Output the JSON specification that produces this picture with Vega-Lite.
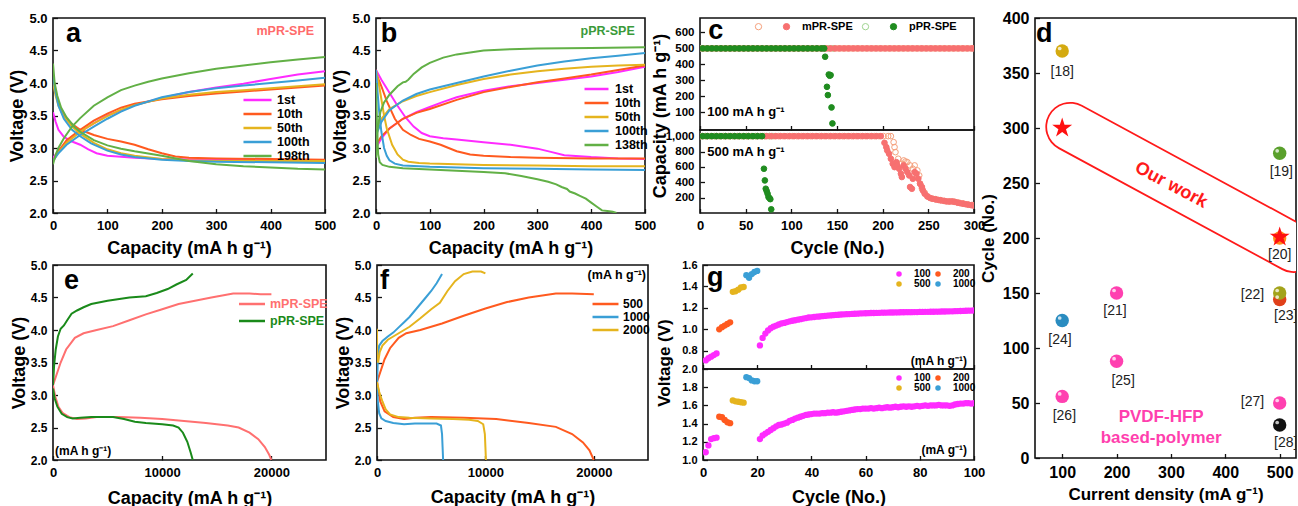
{
 "$schema": "https://vega.github.io/schema/vega-lite/v6.json",
 "background": "white",
 "padding": {"left": 8, "top": 9, "right": 0, "bottom": 0},
 "config": {
  "font": "Liberation Sans",
  "view": {"stroke": "#111", "strokeWidth": 1.6},
  "axis": {"domain": false, "grid": false, "tickColor": "#111", "tickWidth": 1.3, "tickSize": -4.5, "tickCount": 40, "labelPadding": 10.5, "labelFont": "Liberation Sans", "labelFontWeight": "bold", "labelFontSize": 13, "labelColor": "#000", "labelFlush": false, "labelOverlap": false, "titleFont": "Liberation Sans", "titleFontWeight": "bold", "titleFontSize": 18, "titleColor": "#000"},
  "axisX": {"titlePadding": 7},
  "axisY": {"titlePadding": 2},
  "legend": {"padding": 0, "labelFont": "Liberation Sans", "labelFontWeight": "bold", "labelColor": "#000", "title": null},
  "text": {"font": "Liberation Sans"}
 },
 "datasets": {
  "a": [
   {"s":"1st","b":"c","x":0,"y":2.85},{"s":"1st","b":"c","x":10,"y":2.95},{"s":"1st","b":"c","x":25,"y":3.1},{"s":"1st","b":"c","x":50,"y":3.25},{"s":"1st","b":"c","x":75,"y":3.38},{"s":"1st","b":"c","x":100,"y":3.5},{"s":"1st","b":"c","x":150,"y":3.66},{"s":"1st","b":"c","x":200,"y":3.77},{"s":"1st","b":"c","x":250,"y":3.86},{"s":"1st","b":"c","x":300,"y":3.93},{"s":"1st","b":"c","x":350,"y":3.99},{"s":"1st","b":"c","x":400,"y":4.06},{"s":"1st","b":"c","x":450,"y":4.13},{"s":"1st","b":"c","x":500,"y":4.18},
   {"s":"1st","b":"d","x":0,"y":3.55},{"s":"1st","b":"d","x":5,"y":3.4},{"s":"1st","b":"d","x":10,"y":3.28},{"s":"1st","b":"d","x":20,"y":3.17},{"s":"1st","b":"d","x":35,"y":3.1},{"s":"1st","b":"d","x":50,"y":3.05},{"s":"1st","b":"d","x":65,"y":2.98},{"s":"1st","b":"d","x":80,"y":2.92},{"s":"1st","b":"d","x":100,"y":2.88},{"s":"1st","b":"d","x":150,"y":2.85},{"s":"1st","b":"d","x":200,"y":2.83},{"s":"1st","b":"d","x":300,"y":2.82},{"s":"1st","b":"d","x":400,"y":2.81},{"s":"1st","b":"d","x":500,"y":2.8},
   {"s":"10th","b":"c","x":0,"y":2.8},{"s":"10th","b":"c","x":10,"y":2.95},{"s":"10th","b":"c","x":25,"y":3.12},{"s":"10th","b":"c","x":50,"y":3.28},{"s":"10th","b":"c","x":75,"y":3.42},{"s":"10th","b":"c","x":100,"y":3.53},{"s":"10th","b":"c","x":125,"y":3.62},{"s":"10th","b":"c","x":150,"y":3.68},{"s":"10th","b":"c","x":200,"y":3.75},{"s":"10th","b":"c","x":250,"y":3.8},{"s":"10th","b":"c","x":300,"y":3.84},{"s":"10th","b":"c","x":350,"y":3.87},{"s":"10th","b":"c","x":400,"y":3.9},{"s":"10th","b":"c","x":450,"y":3.93},{"s":"10th","b":"c","x":500,"y":3.96},
   {"s":"10th","b":"d","x":0,"y":4.1},{"s":"10th","b":"d","x":5,"y":3.85},{"s":"10th","b":"d","x":10,"y":3.68},{"s":"10th","b":"d","x":20,"y":3.5},{"s":"10th","b":"d","x":30,"y":3.4},{"s":"10th","b":"d","x":50,"y":3.28},{"s":"10th","b":"d","x":75,"y":3.2},{"s":"10th","b":"d","x":100,"y":3.14},{"s":"10th","b":"d","x":125,"y":3.1},{"s":"10th","b":"d","x":150,"y":3.05},{"s":"10th","b":"d","x":175,"y":2.98},{"s":"10th","b":"d","x":200,"y":2.92},{"s":"10th","b":"d","x":225,"y":2.87},{"s":"10th","b":"d","x":250,"y":2.85},{"s":"10th","b":"d","x":300,"y":2.84},{"s":"10th","b":"d","x":400,"y":2.83},{"s":"10th","b":"d","x":500,"y":2.82},
   {"s":"50th","b":"c","x":0,"y":2.8},{"s":"50th","b":"c","x":10,"y":2.93},{"s":"50th","b":"c","x":25,"y":3.08},{"s":"50th","b":"c","x":50,"y":3.25},{"s":"50th","b":"c","x":75,"y":3.38},{"s":"50th","b":"c","x":100,"y":3.49},{"s":"50th","b":"c","x":125,"y":3.59},{"s":"50th","b":"c","x":150,"y":3.66},{"s":"50th","b":"c","x":200,"y":3.76},{"s":"50th","b":"c","x":250,"y":3.82},{"s":"50th","b":"c","x":300,"y":3.86},{"s":"50th","b":"c","x":350,"y":3.89},{"s":"50th","b":"c","x":400,"y":3.92},{"s":"50th","b":"c","x":450,"y":3.95},{"s":"50th","b":"c","x":500,"y":3.98},
   {"s":"50th","b":"d","x":0,"y":4.0},{"s":"50th","b":"d","x":5,"y":3.8},{"s":"50th","b":"d","x":10,"y":3.65},{"s":"50th","b":"d","x":20,"y":3.48},{"s":"50th","b":"d","x":35,"y":3.33},{"s":"50th","b":"d","x":50,"y":3.22},{"s":"50th","b":"d","x":75,"y":3.08},{"s":"50th","b":"d","x":100,"y":2.98},{"s":"50th","b":"d","x":125,"y":2.92},{"s":"50th","b":"d","x":150,"y":2.88},{"s":"50th","b":"d","x":200,"y":2.83},{"s":"50th","b":"d","x":250,"y":2.81},{"s":"50th","b":"d","x":300,"y":2.8},{"s":"50th","b":"d","x":400,"y":2.8},{"s":"50th","b":"d","x":500,"y":2.8},
   {"s":"100th","b":"c","x":0,"y":2.8},{"s":"100th","b":"c","x":10,"y":2.92},{"s":"100th","b":"c","x":25,"y":3.05},{"s":"100th","b":"c","x":50,"y":3.2},{"s":"100th","b":"c","x":75,"y":3.33},{"s":"100th","b":"c","x":100,"y":3.45},{"s":"100th","b":"c","x":125,"y":3.56},{"s":"100th","b":"c","x":150,"y":3.65},{"s":"100th","b":"c","x":200,"y":3.78},{"s":"100th","b":"c","x":250,"y":3.86},{"s":"100th","b":"c","x":300,"y":3.92},{"s":"100th","b":"c","x":350,"y":3.96},{"s":"100th","b":"c","x":400,"y":4.0},{"s":"100th","b":"c","x":450,"y":4.04},{"s":"100th","b":"c","x":500,"y":4.08},
   {"s":"100th","b":"d","x":0,"y":4.1},{"s":"100th","b":"d","x":5,"y":3.85},{"s":"100th","b":"d","x":10,"y":3.65},{"s":"100th","b":"d","x":20,"y":3.45},{"s":"100th","b":"d","x":35,"y":3.28},{"s":"100th","b":"d","x":50,"y":3.18},{"s":"100th","b":"d","x":70,"y":3.07},{"s":"100th","b":"d","x":100,"y":2.96},{"s":"100th","b":"d","x":125,"y":2.9},{"s":"100th","b":"d","x":150,"y":2.86},{"s":"100th","b":"d","x":200,"y":2.82},{"s":"100th","b":"d","x":250,"y":2.8},{"s":"100th","b":"d","x":300,"y":2.79},{"s":"100th","b":"d","x":400,"y":2.78},{"s":"100th","b":"d","x":500,"y":2.77},
   {"s":"198th","b":"c","x":0,"y":2.75},{"s":"198th","b":"c","x":5,"y":2.9},{"s":"198th","b":"c","x":10,"y":3.0},{"s":"198th","b":"c","x":20,"y":3.15},{"s":"198th","b":"c","x":35,"y":3.33},{"s":"198th","b":"c","x":50,"y":3.46},{"s":"198th","b":"c","x":75,"y":3.65},{"s":"198th","b":"c","x":100,"y":3.78},{"s":"198th","b":"c","x":125,"y":3.89},{"s":"198th","b":"c","x":150,"y":3.96},{"s":"198th","b":"c","x":175,"y":4.02},{"s":"198th","b":"c","x":200,"y":4.07},{"s":"198th","b":"c","x":250,"y":4.15},{"s":"198th","b":"c","x":300,"y":4.22},{"s":"198th","b":"c","x":350,"y":4.27},{"s":"198th","b":"c","x":400,"y":4.32},{"s":"198th","b":"c","x":450,"y":4.36},{"s":"198th","b":"c","x":500,"y":4.4},
   {"s":"198th","b":"d","x":0,"y":4.3},{"s":"198th","b":"d","x":3,"y":4.0},{"s":"198th","b":"d","x":8,"y":3.8},{"s":"198th","b":"d","x":15,"y":3.62},{"s":"198th","b":"d","x":25,"y":3.47},{"s":"198th","b":"d","x":40,"y":3.32},{"s":"198th","b":"d","x":50,"y":3.25},{"s":"198th","b":"d","x":75,"y":3.12},{"s":"198th","b":"d","x":100,"y":3.04},{"s":"198th","b":"d","x":125,"y":2.99},{"s":"198th","b":"d","x":150,"y":2.95},{"s":"198th","b":"d","x":200,"y":2.88},{"s":"198th","b":"d","x":250,"y":2.8},{"s":"198th","b":"d","x":300,"y":2.75},{"s":"198th","b":"d","x":350,"y":2.72},{"s":"198th","b":"d","x":400,"y":2.7},{"s":"198th","b":"d","x":450,"y":2.68},{"s":"198th","b":"d","x":500,"y":2.67}
  ],
  "b": [
   {"s":"1st","b":"c","x":0,"y":3.0},{"s":"1st","b":"c","x":10,"y":3.15},{"s":"1st","b":"c","x":25,"y":3.3},{"s":"1st","b":"c","x":50,"y":3.45},{"s":"1st","b":"c","x":75,"y":3.55},{"s":"1st","b":"c","x":100,"y":3.63},{"s":"1st","b":"c","x":125,"y":3.71},{"s":"1st","b":"c","x":150,"y":3.78},{"s":"1st","b":"c","x":200,"y":3.88},{"s":"1st","b":"c","x":250,"y":3.95},{"s":"1st","b":"c","x":300,"y":4.0},{"s":"1st","b":"c","x":350,"y":4.05},{"s":"1st","b":"c","x":400,"y":4.1},{"s":"1st","b":"c","x":450,"y":4.17},{"s":"1st","b":"c","x":500,"y":4.25},
   {"s":"1st","b":"d","x":0,"y":4.2},{"s":"1st","b":"d","x":10,"y":4.05},{"s":"1st","b":"d","x":25,"y":3.85},{"s":"1st","b":"d","x":40,"y":3.65},{"s":"1st","b":"d","x":55,"y":3.47},{"s":"1st","b":"d","x":70,"y":3.33},{"s":"1st","b":"d","x":85,"y":3.23},{"s":"1st","b":"d","x":100,"y":3.18},{"s":"1st","b":"d","x":125,"y":3.15},{"s":"1st","b":"d","x":150,"y":3.13},{"s":"1st","b":"d","x":200,"y":3.09},{"s":"1st","b":"d","x":250,"y":3.05},{"s":"1st","b":"d","x":300,"y":2.99},{"s":"1st","b":"d","x":325,"y":2.94},{"s":"1st","b":"d","x":350,"y":2.89},{"s":"1st","b":"d","x":400,"y":2.86},{"s":"1st","b":"d","x":450,"y":2.84},{"s":"1st","b":"d","x":500,"y":2.83},
   {"s":"10th","b":"c","x":0,"y":3.05},{"s":"10th","b":"c","x":10,"y":3.18},{"s":"10th","b":"c","x":25,"y":3.3},{"s":"10th","b":"c","x":50,"y":3.45},{"s":"10th","b":"c","x":75,"y":3.54},{"s":"10th","b":"c","x":100,"y":3.6},{"s":"10th","b":"c","x":150,"y":3.74},{"s":"10th","b":"c","x":200,"y":3.86},{"s":"10th","b":"c","x":250,"y":3.94},{"s":"10th","b":"c","x":300,"y":4.01},{"s":"10th","b":"c","x":350,"y":4.07},{"s":"10th","b":"c","x":400,"y":4.13},{"s":"10th","b":"c","x":450,"y":4.2},{"s":"10th","b":"c","x":500,"y":4.27},
   {"s":"10th","b":"d","x":0,"y":4.15},{"s":"10th","b":"d","x":10,"y":3.95},{"s":"10th","b":"d","x":20,"y":3.72},{"s":"10th","b":"d","x":35,"y":3.45},{"s":"10th","b":"d","x":50,"y":3.28},{"s":"10th","b":"d","x":65,"y":3.2},{"s":"10th","b":"d","x":80,"y":3.14},{"s":"10th","b":"d","x":100,"y":3.1},{"s":"10th","b":"d","x":120,"y":3.05},{"s":"10th","b":"d","x":135,"y":3.0},{"s":"10th","b":"d","x":150,"y":2.95},{"s":"10th","b":"d","x":175,"y":2.9},{"s":"10th","b":"d","x":200,"y":2.88},{"s":"10th","b":"d","x":250,"y":2.86},{"s":"10th","b":"d","x":300,"y":2.85},{"s":"10th","b":"d","x":400,"y":2.84},{"s":"10th","b":"d","x":500,"y":2.84},
   {"s":"50th","b":"c","x":0,"y":3.3},{"s":"50th","b":"c","x":10,"y":3.45},{"s":"50th","b":"c","x":25,"y":3.6},{"s":"50th","b":"c","x":50,"y":3.72},{"s":"50th","b":"c","x":75,"y":3.8},{"s":"50th","b":"c","x":100,"y":3.86},{"s":"50th","b":"c","x":150,"y":3.97},{"s":"50th","b":"c","x":200,"y":4.06},{"s":"50th","b":"c","x":250,"y":4.13},{"s":"50th","b":"c","x":300,"y":4.18},{"s":"50th","b":"c","x":350,"y":4.22},{"s":"50th","b":"c","x":400,"y":4.25},{"s":"50th","b":"c","x":450,"y":4.27},{"s":"50th","b":"c","x":500,"y":4.28},
   {"s":"50th","b":"d","x":0,"y":4.2},{"s":"50th","b":"d","x":5,"y":4.0},{"s":"50th","b":"d","x":10,"y":3.75},{"s":"50th","b":"d","x":15,"y":3.5},{"s":"50th","b":"d","x":20,"y":3.3},{"s":"50th","b":"d","x":30,"y":3.05},{"s":"50th","b":"d","x":40,"y":2.9},{"s":"50th","b":"d","x":50,"y":2.82},{"s":"50th","b":"d","x":60,"y":2.79},{"s":"50th","b":"d","x":80,"y":2.77},{"s":"50th","b":"d","x":100,"y":2.76},{"s":"50th","b":"d","x":200,"y":2.74},{"s":"50th","b":"d","x":300,"y":2.73},{"s":"50th","b":"d","x":400,"y":2.72},{"s":"50th","b":"d","x":500,"y":2.72},
   {"s":"100th","b":"c","x":0,"y":3.2},{"s":"100th","b":"c","x":10,"y":3.4},{"s":"100th","b":"c","x":25,"y":3.58},{"s":"100th","b":"c","x":50,"y":3.73},{"s":"100th","b":"c","x":75,"y":3.83},{"s":"100th","b":"c","x":100,"y":3.9},{"s":"100th","b":"c","x":150,"y":4.0},{"s":"100th","b":"c","x":200,"y":4.1},{"s":"100th","b":"c","x":250,"y":4.19},{"s":"100th","b":"c","x":300,"y":4.27},{"s":"100th","b":"c","x":350,"y":4.33},{"s":"100th","b":"c","x":400,"y":4.38},{"s":"100th","b":"c","x":450,"y":4.42},{"s":"100th","b":"c","x":500,"y":4.46},
   {"s":"100th","b":"d","x":0,"y":4.2},{"s":"100th","b":"d","x":3,"y":3.85},{"s":"100th","b":"d","x":6,"y":3.55},{"s":"100th","b":"d","x":10,"y":3.25},{"s":"100th","b":"d","x":15,"y":3.0},{"s":"100th","b":"d","x":20,"y":2.88},{"s":"100th","b":"d","x":25,"y":2.81},{"s":"100th","b":"d","x":35,"y":2.76},{"s":"100th","b":"d","x":50,"y":2.73},{"s":"100th","b":"d","x":100,"y":2.71},{"s":"100th","b":"d","x":200,"y":2.69},{"s":"100th","b":"d","x":300,"y":2.68},{"s":"100th","b":"d","x":400,"y":2.67},{"s":"100th","b":"d","x":500,"y":2.66},
   {"s":"138th","b":"c","x":0,"y":2.85},{"s":"138th","b":"c","x":3,"y":3.3},{"s":"138th","b":"c","x":8,"y":3.55},{"s":"138th","b":"c","x":15,"y":3.7},{"s":"138th","b":"c","x":25,"y":3.82},{"s":"138th","b":"c","x":40,"y":3.95},{"s":"138th","b":"c","x":50,"y":4.01},{"s":"138th","b":"c","x":55,"y":4.02},{"s":"138th","b":"c","x":60,"y":4.05},{"s":"138th","b":"c","x":70,"y":4.14},{"s":"138th","b":"c","x":85,"y":4.24},{"s":"138th","b":"c","x":100,"y":4.31},{"s":"138th","b":"c","x":125,"y":4.39},{"s":"138th","b":"c","x":150,"y":4.44},{"s":"138th","b":"c","x":200,"y":4.5},{"s":"138th","b":"c","x":250,"y":4.52},{"s":"138th","b":"c","x":300,"y":4.53},{"s":"138th","b":"c","x":400,"y":4.54},{"s":"138th","b":"c","x":500,"y":4.55},
   {"s":"138th","b":"d","x":0,"y":4.0},{"s":"138th","b":"d","x":2,"y":3.3},{"s":"138th","b":"d","x":4,"y":2.9},{"s":"138th","b":"d","x":7,"y":2.78},{"s":"138th","b":"d","x":12,"y":2.74},{"s":"138th","b":"d","x":25,"y":2.71},{"s":"138th","b":"d","x":50,"y":2.69},{"s":"138th","b":"d","x":100,"y":2.67},{"s":"138th","b":"d","x":150,"y":2.65},{"s":"138th","b":"d","x":200,"y":2.63},{"s":"138th","b":"d","x":240,"y":2.61},{"s":"138th","b":"d","x":270,"y":2.57},{"s":"138th","b":"d","x":300,"y":2.52},{"s":"138th","b":"d","x":320,"y":2.48},{"s":"138th","b":"d","x":335,"y":2.44},{"s":"138th","b":"d","x":345,"y":2.4},{"s":"138th","b":"d","x":355,"y":2.37},{"s":"138th","b":"d","x":360,"y":2.33},{"s":"138th","b":"d","x":370,"y":2.3},{"s":"138th","b":"d","x":380,"y":2.26},{"s":"138th","b":"d","x":390,"y":2.22},{"s":"138th","b":"d","x":400,"y":2.16},{"s":"138th","b":"d","x":410,"y":2.1},{"s":"138th","b":"d","x":420,"y":2.04},{"s":"138th","b":"d","x":430,"y":2.03},{"s":"138th","b":"d","x":440,"y":2.02},{"s":"138th","b":"d","x":447,"y":2.0}
  ],
  "c": [
   {"s":"t","k":"m0","n":1,"v":500},{"s":"t","k":"m0","n":6,"v":500},{"s":"t","k":"m0","n":11,"v":500},{"s":"t","k":"m0","n":16,"v":500},{"s":"t","k":"m0","n":21,"v":500},{"s":"t","k":"m0","n":26,"v":500},{"s":"t","k":"m0","n":31,"v":500},{"s":"t","k":"m0","n":36,"v":500},{"s":"t","k":"m0","n":41,"v":500},{"s":"t","k":"m0","n":46,"v":500},{"s":"t","k":"m0","n":51,"v":500},{"s":"t","k":"m0","n":56,"v":500},{"s":"t","k":"m0","n":61,"v":500},{"s":"t","k":"m0","n":66,"v":500},{"s":"t","k":"m0","n":71,"v":500},{"s":"t","k":"m0","n":76,"v":500},{"s":"t","k":"m0","n":81,"v":500},{"s":"t","k":"m0","n":86,"v":500},{"s":"t","k":"m0","n":91,"v":500},{"s":"t","k":"m0","n":96,"v":500},{"s":"t","k":"m0","n":101,"v":500},{"s":"t","k":"m0","n":106,"v":500},{"s":"t","k":"m0","n":111,"v":500},{"s":"t","k":"m0","n":116,"v":500},{"s":"t","k":"m0","n":121,"v":500},{"s":"t","k":"m0","n":126,"v":500},{"s":"t","k":"m0","n":131,"v":500},{"s":"t","k":"m0","n":136,"v":500},{"s":"t","k":"m0","n":141,"v":500},{"s":"t","k":"m0","n":146,"v":500},{"s":"t","k":"m0","n":151,"v":500},{"s":"t","k":"m0","n":156,"v":500},{"s":"t","k":"m0","n":161,"v":500},{"s":"t","k":"m0","n":166,"v":500},{"s":"t","k":"m0","n":171,"v":500},{"s":"t","k":"m0","n":176,"v":500},{"s":"t","k":"m0","n":181,"v":500},{"s":"t","k":"m0","n":186,"v":500},{"s":"t","k":"m0","n":191,"v":500},{"s":"t","k":"m0","n":196,"v":500},{"s":"t","k":"m0","n":201,"v":500},{"s":"t","k":"m0","n":206,"v":500},{"s":"t","k":"m0","n":211,"v":500},{"s":"t","k":"m0","n":216,"v":500},{"s":"t","k":"m0","n":221,"v":500},{"s":"t","k":"m0","n":226,"v":500},{"s":"t","k":"m0","n":231,"v":500},{"s":"t","k":"m0","n":236,"v":500},{"s":"t","k":"m0","n":241,"v":500},{"s":"t","k":"m0","n":246,"v":500},{"s":"t","k":"m0","n":251,"v":500},{"s":"t","k":"m0","n":256,"v":500},{"s":"t","k":"m0","n":261,"v":500},{"s":"t","k":"m0","n":266,"v":500},{"s":"t","k":"m0","n":271,"v":500},{"s":"t","k":"m0","n":276,"v":500},{"s":"t","k":"m0","n":281,"v":500},{"s":"t","k":"m0","n":286,"v":500},{"s":"t","k":"m0","n":291,"v":500},{"s":"t","k":"m0","n":296,"v":500},{"s":"t","k":"m0","n":300,"v":500},
   {"s":"b","k":"m0","n":1,"v":1000},{"s":"b","k":"m0","n":6,"v":1000},{"s":"b","k":"m0","n":11,"v":1000},{"s":"b","k":"m0","n":16,"v":1000},{"s":"b","k":"m0","n":21,"v":1000},{"s":"b","k":"m0","n":26,"v":1000},{"s":"b","k":"m0","n":31,"v":1000},{"s":"b","k":"m0","n":36,"v":1000},{"s":"b","k":"m0","n":41,"v":1000},{"s":"b","k":"m0","n":46,"v":1000},{"s":"b","k":"m0","n":51,"v":1000},{"s":"b","k":"m0","n":56,"v":1000},{"s":"b","k":"m0","n":61,"v":1000},{"s":"b","k":"m0","n":66,"v":1000},{"s":"b","k":"m0","n":71,"v":1000},{"s":"b","k":"m0","n":76,"v":1000},{"s":"b","k":"m0","n":81,"v":1000},{"s":"b","k":"m0","n":86,"v":1000},{"s":"b","k":"m0","n":91,"v":1000},{"s":"b","k":"m0","n":96,"v":1000},{"s":"b","k":"m0","n":101,"v":1000},{"s":"b","k":"m0","n":106,"v":1000},{"s":"b","k":"m0","n":111,"v":1000},{"s":"b","k":"m0","n":116,"v":1000},{"s":"b","k":"m0","n":121,"v":1000},{"s":"b","k":"m0","n":126,"v":1000},{"s":"b","k":"m0","n":131,"v":1000},{"s":"b","k":"m0","n":136,"v":1000},{"s":"b","k":"m0","n":141,"v":1000},{"s":"b","k":"m0","n":146,"v":1000},{"s":"b","k":"m0","n":151,"v":1000},{"s":"b","k":"m0","n":156,"v":1000},{"s":"b","k":"m0","n":161,"v":1000},{"s":"b","k":"m0","n":166,"v":1000},{"s":"b","k":"m0","n":171,"v":1000},{"s":"b","k":"m0","n":176,"v":1000},{"s":"b","k":"m0","n":181,"v":1000},{"s":"b","k":"m0","n":186,"v":1000},{"s":"b","k":"m0","n":191,"v":1000},{"s":"b","k":"m0","n":196,"v":1000},{"s":"b","k":"m0","n":201,"v":1000},{"s":"b","k":"m0","n":206,"v":1000},{"s":"b","k":"m0","n":209,"v":1000},{"s":"b","k":"m0","n":212,"v":922},{"s":"b","k":"m0","n":213,"v":857},{"s":"b","k":"m0","n":214,"v":792},{"s":"b","k":"m0","n":217,"v":706},{"s":"b","k":"m0","n":221,"v":641},{"s":"b","k":"m0","n":223,"v":684},{"s":"b","k":"m0","n":225,"v":670},{"s":"b","k":"m0","n":227,"v":662},{"s":"b","k":"m0","n":230,"v":619},{"s":"b","k":"m0","n":233,"v":576},{"s":"b","k":"m0","n":235,"v":619},{"s":"b","k":"m0","n":238,"v":554},{"s":"b","k":"m0","n":240,"v":489},{"s":"b","k":"m0","n":241,"v":381},{"s":"b","k":"m0","n":243,"v":316},{"s":"b","k":"m0","n":246,"v":264},{"s":"b","k":"m0","n":249,"v":216},{"s":"b","k":"m0","n":254,"v":186},{"s":"b","k":"m0","n":258,"v":180},{"s":"b","k":"m0","n":263,"v":168},{"s":"b","k":"m0","n":268,"v":156},{"s":"b","k":"m0","n":273,"v":150},{"s":"b","k":"m0","n":278,"v":147},{"s":"b","k":"m0","n":283,"v":137},{"s":"b","k":"m0","n":288,"v":125},{"s":"b","k":"m0","n":293,"v":112},{"s":"b","k":"m0","n":298,"v":104},
   {"s":"t","k":"p0","n":1,"v":500},{"s":"t","k":"p0","n":6,"v":500},{"s":"t","k":"p0","n":11,"v":500},{"s":"t","k":"p0","n":16,"v":500},{"s":"t","k":"p0","n":21,"v":500},{"s":"t","k":"p0","n":26,"v":500},{"s":"t","k":"p0","n":31,"v":500},{"s":"t","k":"p0","n":36,"v":500},{"s":"t","k":"p0","n":41,"v":500},{"s":"t","k":"p0","n":46,"v":500},{"s":"t","k":"p0","n":51,"v":500},{"s":"t","k":"p0","n":56,"v":500},{"s":"t","k":"p0","n":61,"v":500},{"s":"t","k":"p0","n":66,"v":500},{"s":"t","k":"p0","n":71,"v":500},{"s":"t","k":"p0","n":76,"v":500},{"s":"t","k":"p0","n":81,"v":500},{"s":"t","k":"p0","n":86,"v":500},{"s":"t","k":"p0","n":91,"v":500},{"s":"t","k":"p0","n":96,"v":500},{"s":"t","k":"p0","n":101,"v":500},{"s":"t","k":"p0","n":106,"v":500},{"s":"t","k":"p0","n":111,"v":500},{"s":"t","k":"p0","n":116,"v":500},{"s":"t","k":"p0","n":121,"v":500},{"s":"t","k":"p0","n":126,"v":500},{"s":"t","k":"p0","n":131,"v":500},{"s":"t","k":"p0","n":136,"v":500},{"s":"t","k":"p0","n":141,"v":500},{"s":"t","k":"p0","n":146,"v":500},
   {"s":"b","k":"p0","n":1,"v":1000},{"s":"b","k":"p0","n":6,"v":1000},{"s":"b","k":"p0","n":11,"v":1000},{"s":"b","k":"p0","n":16,"v":1000},{"s":"b","k":"p0","n":21,"v":1000},{"s":"b","k":"p0","n":26,"v":1000},{"s":"b","k":"p0","n":31,"v":1000},{"s":"b","k":"p0","n":36,"v":1000},{"s":"b","k":"p0","n":41,"v":1000},{"s":"b","k":"p0","n":46,"v":1000},{"s":"b","k":"p0","n":51,"v":1000},{"s":"b","k":"p0","n":56,"v":1000},{"s":"b","k":"p0","n":61,"v":1000},{"s":"b","k":"p0","n":66,"v":1000},{"s":"b","k":"p0","n":71,"v":1000},{"s":"b","k":"p0","n":76,"v":1000},{"s":"b","k":"p0","n":79,"v":1000},
   {"s":"t","k":"mPR-SPE","n":3,"v":500},{"s":"t","k":"mPR-SPE","n":8,"v":500},{"s":"t","k":"mPR-SPE","n":13,"v":500},{"s":"t","k":"mPR-SPE","n":18,"v":500},{"s":"t","k":"mPR-SPE","n":23,"v":500},{"s":"t","k":"mPR-SPE","n":28,"v":500},{"s":"t","k":"mPR-SPE","n":33,"v":500},{"s":"t","k":"mPR-SPE","n":38,"v":500},{"s":"t","k":"mPR-SPE","n":43,"v":500},{"s":"t","k":"mPR-SPE","n":48,"v":500},{"s":"t","k":"mPR-SPE","n":53,"v":500},{"s":"t","k":"mPR-SPE","n":58,"v":500},{"s":"t","k":"mPR-SPE","n":63,"v":500},{"s":"t","k":"mPR-SPE","n":68,"v":500},{"s":"t","k":"mPR-SPE","n":73,"v":500},{"s":"t","k":"mPR-SPE","n":78,"v":500},{"s":"t","k":"mPR-SPE","n":83,"v":500},{"s":"t","k":"mPR-SPE","n":88,"v":500},{"s":"t","k":"mPR-SPE","n":93,"v":500},{"s":"t","k":"mPR-SPE","n":98,"v":500},{"s":"t","k":"mPR-SPE","n":103,"v":500},{"s":"t","k":"mPR-SPE","n":108,"v":500},{"s":"t","k":"mPR-SPE","n":113,"v":500},{"s":"t","k":"mPR-SPE","n":118,"v":500},{"s":"t","k":"mPR-SPE","n":123,"v":500},{"s":"t","k":"mPR-SPE","n":128,"v":500},{"s":"t","k":"mPR-SPE","n":133,"v":500},{"s":"t","k":"mPR-SPE","n":138,"v":500},{"s":"t","k":"mPR-SPE","n":143,"v":500},{"s":"t","k":"mPR-SPE","n":148,"v":500},{"s":"t","k":"mPR-SPE","n":153,"v":500},{"s":"t","k":"mPR-SPE","n":158,"v":500},{"s":"t","k":"mPR-SPE","n":163,"v":500},{"s":"t","k":"mPR-SPE","n":168,"v":500},{"s":"t","k":"mPR-SPE","n":173,"v":500},{"s":"t","k":"mPR-SPE","n":178,"v":500},{"s":"t","k":"mPR-SPE","n":183,"v":500},{"s":"t","k":"mPR-SPE","n":188,"v":500},{"s":"t","k":"mPR-SPE","n":193,"v":500},{"s":"t","k":"mPR-SPE","n":198,"v":500},{"s":"t","k":"mPR-SPE","n":203,"v":500},{"s":"t","k":"mPR-SPE","n":208,"v":500},{"s":"t","k":"mPR-SPE","n":213,"v":500},{"s":"t","k":"mPR-SPE","n":218,"v":500},{"s":"t","k":"mPR-SPE","n":223,"v":500},{"s":"t","k":"mPR-SPE","n":228,"v":500},{"s":"t","k":"mPR-SPE","n":233,"v":500},{"s":"t","k":"mPR-SPE","n":238,"v":500},{"s":"t","k":"mPR-SPE","n":243,"v":500},{"s":"t","k":"mPR-SPE","n":248,"v":500},{"s":"t","k":"mPR-SPE","n":253,"v":500},{"s":"t","k":"mPR-SPE","n":258,"v":500},{"s":"t","k":"mPR-SPE","n":263,"v":500},{"s":"t","k":"mPR-SPE","n":268,"v":500},{"s":"t","k":"mPR-SPE","n":273,"v":500},{"s":"t","k":"mPR-SPE","n":278,"v":500},{"s":"t","k":"mPR-SPE","n":283,"v":500},{"s":"t","k":"mPR-SPE","n":288,"v":500},{"s":"t","k":"mPR-SPE","n":293,"v":500},{"s":"t","k":"mPR-SPE","n":298,"v":500},
   {"s":"b","k":"mPR-SPE","n":3,"v":1000},{"s":"b","k":"mPR-SPE","n":8,"v":1000},{"s":"b","k":"mPR-SPE","n":13,"v":1000},{"s":"b","k":"mPR-SPE","n":18,"v":1000},{"s":"b","k":"mPR-SPE","n":23,"v":1000},{"s":"b","k":"mPR-SPE","n":28,"v":1000},{"s":"b","k":"mPR-SPE","n":33,"v":1000},{"s":"b","k":"mPR-SPE","n":38,"v":1000},{"s":"b","k":"mPR-SPE","n":43,"v":1000},{"s":"b","k":"mPR-SPE","n":48,"v":1000},{"s":"b","k":"mPR-SPE","n":53,"v":1000},{"s":"b","k":"mPR-SPE","n":58,"v":1000},{"s":"b","k":"mPR-SPE","n":63,"v":1000},{"s":"b","k":"mPR-SPE","n":68,"v":1000},{"s":"b","k":"mPR-SPE","n":73,"v":1000},{"s":"b","k":"mPR-SPE","n":78,"v":1000},{"s":"b","k":"mPR-SPE","n":83,"v":1000},{"s":"b","k":"mPR-SPE","n":88,"v":1000},{"s":"b","k":"mPR-SPE","n":93,"v":1000},{"s":"b","k":"mPR-SPE","n":98,"v":1000},{"s":"b","k":"mPR-SPE","n":103,"v":1000},{"s":"b","k":"mPR-SPE","n":108,"v":1000},{"s":"b","k":"mPR-SPE","n":113,"v":1000},{"s":"b","k":"mPR-SPE","n":118,"v":1000},{"s":"b","k":"mPR-SPE","n":123,"v":1000},{"s":"b","k":"mPR-SPE","n":128,"v":1000},{"s":"b","k":"mPR-SPE","n":133,"v":1000},{"s":"b","k":"mPR-SPE","n":138,"v":1000},{"s":"b","k":"mPR-SPE","n":143,"v":1000},{"s":"b","k":"mPR-SPE","n":148,"v":1000},{"s":"b","k":"mPR-SPE","n":153,"v":1000},{"s":"b","k":"mPR-SPE","n":158,"v":1000},{"s":"b","k":"mPR-SPE","n":163,"v":1000},{"s":"b","k":"mPR-SPE","n":168,"v":1000},{"s":"b","k":"mPR-SPE","n":173,"v":1000},{"s":"b","k":"mPR-SPE","n":178,"v":1000},{"s":"b","k":"mPR-SPE","n":183,"v":1000},{"s":"b","k":"mPR-SPE","n":188,"v":1000},{"s":"b","k":"mPR-SPE","n":193,"v":1000},{"s":"b","k":"mPR-SPE","n":198,"v":1000},{"s":"b","k":"mPR-SPE","n":202,"v":913},{"s":"b","k":"mPR-SPE","n":204,"v":857},{"s":"b","k":"mPR-SPE","n":205,"v":814},{"s":"b","k":"mPR-SPE","n":207,"v":771},{"s":"b","k":"mPR-SPE","n":209,"v":706},{"s":"b","k":"mPR-SPE","n":211,"v":641},{"s":"b","k":"mPR-SPE","n":213,"v":597},{"s":"b","k":"mPR-SPE","n":215,"v":662},{"s":"b","k":"mPR-SPE","n":216,"v":619},{"s":"b","k":"mPR-SPE","n":218,"v":576},{"s":"b","k":"mPR-SPE","n":220,"v":511},{"s":"b","k":"mPR-SPE","n":221,"v":468},{"s":"b","k":"mPR-SPE","n":223,"v":619},{"s":"b","k":"mPR-SPE","n":225,"v":576},{"s":"b","k":"mPR-SPE","n":227,"v":532},{"s":"b","k":"mPR-SPE","n":229,"v":489},{"s":"b","k":"mPR-SPE","n":230,"v":338},{"s":"b","k":"mPR-SPE","n":232,"v":316},{"s":"b","k":"mPR-SPE","n":233,"v":446},{"s":"b","k":"mPR-SPE","n":235,"v":532},{"s":"b","k":"mPR-SPE","n":237,"v":511},{"s":"b","k":"mPR-SPE","n":239,"v":446},{"s":"b","k":"mPR-SPE","n":241,"v":381},{"s":"b","k":"mPR-SPE","n":243,"v":338},{"s":"b","k":"mPR-SPE","n":244,"v":294},{"s":"b","k":"mPR-SPE","n":246,"v":251},{"s":"b","k":"mPR-SPE","n":249,"v":216},{"s":"b","k":"mPR-SPE","n":252,"v":195},{"s":"b","k":"mPR-SPE","n":255,"v":185},{"s":"b","k":"mPR-SPE","n":258,"v":177},{"s":"b","k":"mPR-SPE","n":261,"v":170},{"s":"b","k":"mPR-SPE","n":264,"v":164},{"s":"b","k":"mPR-SPE","n":267,"v":158},{"s":"b","k":"mPR-SPE","n":270,"v":151},{"s":"b","k":"mPR-SPE","n":273,"v":150},{"s":"b","k":"mPR-SPE","n":276,"v":151},{"s":"b","k":"mPR-SPE","n":279,"v":145},{"s":"b","k":"mPR-SPE","n":282,"v":134},{"s":"b","k":"mPR-SPE","n":285,"v":127},{"s":"b","k":"mPR-SPE","n":288,"v":121},{"s":"b","k":"mPR-SPE","n":291,"v":114},{"s":"b","k":"mPR-SPE","n":294,"v":108},{"s":"b","k":"mPR-SPE","n":297,"v":102},{"s":"b","k":"mPR-SPE","n":300,"v":96},
   {"s":"t","k":"pPR-SPE","n":3,"v":500},{"s":"t","k":"pPR-SPE","n":8,"v":500},{"s":"t","k":"pPR-SPE","n":13,"v":500},{"s":"t","k":"pPR-SPE","n":18,"v":500},{"s":"t","k":"pPR-SPE","n":23,"v":500},{"s":"t","k":"pPR-SPE","n":28,"v":500},{"s":"t","k":"pPR-SPE","n":33,"v":500},{"s":"t","k":"pPR-SPE","n":38,"v":500},{"s":"t","k":"pPR-SPE","n":43,"v":500},{"s":"t","k":"pPR-SPE","n":48,"v":500},{"s":"t","k":"pPR-SPE","n":53,"v":500},{"s":"t","k":"pPR-SPE","n":58,"v":500},{"s":"t","k":"pPR-SPE","n":63,"v":500},{"s":"t","k":"pPR-SPE","n":68,"v":500},{"s":"t","k":"pPR-SPE","n":73,"v":500},{"s":"t","k":"pPR-SPE","n":78,"v":500},{"s":"t","k":"pPR-SPE","n":83,"v":500},{"s":"t","k":"pPR-SPE","n":88,"v":500},{"s":"t","k":"pPR-SPE","n":93,"v":500},{"s":"t","k":"pPR-SPE","n":98,"v":500},{"s":"t","k":"pPR-SPE","n":103,"v":500},{"s":"t","k":"pPR-SPE","n":108,"v":500},{"s":"t","k":"pPR-SPE","n":113,"v":500},{"s":"t","k":"pPR-SPE","n":118,"v":500},{"s":"t","k":"pPR-SPE","n":123,"v":500},{"s":"t","k":"pPR-SPE","n":128,"v":500},{"s":"t","k":"pPR-SPE","n":133,"v":500},{"s":"t","k":"pPR-SPE","n":136,"v":500},{"s":"t","k":"pPR-SPE","n":137,"v":448},{"s":"t","k":"pPR-SPE","n":139,"v":260},{"s":"t","k":"pPR-SPE","n":140,"v":208},{"s":"t","k":"pPR-SPE","n":141,"v":337},{"s":"t","k":"pPR-SPE","n":142,"v":329},{"s":"t","k":"pPR-SPE","n":143,"v":333},{"s":"t","k":"pPR-SPE","n":144,"v":131},{"s":"t","k":"pPR-SPE","n":145,"v":31},
   {"s":"b","k":"pPR-SPE","n":3,"v":1000},{"s":"b","k":"pPR-SPE","n":8,"v":1000},{"s":"b","k":"pPR-SPE","n":13,"v":1000},{"s":"b","k":"pPR-SPE","n":18,"v":1000},{"s":"b","k":"pPR-SPE","n":23,"v":1000},{"s":"b","k":"pPR-SPE","n":28,"v":1000},{"s":"b","k":"pPR-SPE","n":33,"v":1000},{"s":"b","k":"pPR-SPE","n":38,"v":1000},{"s":"b","k":"pPR-SPE","n":43,"v":1000},{"s":"b","k":"pPR-SPE","n":48,"v":1000},{"s":"b","k":"pPR-SPE","n":53,"v":1000},{"s":"b","k":"pPR-SPE","n":58,"v":1000},{"s":"b","k":"pPR-SPE","n":63,"v":1000},{"s":"b","k":"pPR-SPE","n":68,"v":1000},{"s":"b","k":"pPR-SPE","n":70,"v":576},{"s":"b","k":"pPR-SPE","n":71,"v":424},{"s":"b","k":"pPR-SPE","n":72,"v":316},{"s":"b","k":"pPR-SPE","n":73,"v":286},{"s":"b","k":"pPR-SPE","n":74,"v":251},{"s":"b","k":"pPR-SPE","n":75,"v":208},{"s":"b","k":"pPR-SPE","n":76,"v":195},{"s":"b","k":"pPR-SPE","n":77,"v":180},{"s":"b","k":"pPR-SPE","n":78,"v":48}
  ],
  "d": [
   {"r":"[18]","x":100,"y":370},{"r":"[19]","x":500,"y":277},{"r":"[20]","x":500,"y":200},{"r":"[21]","x":200,"y":150},{"r":"[23]","x":500,"y":144},{"r":"[22]","x":500,"y":150},{"r":"[24]","x":100,"y":125},{"r":"[25]","x":200,"y":88},{"r":"[26]","x":100,"y":56},{"r":"[27]","x":500,"y":50},{"r":"[28]","x":500,"y":30}
  ],
  "dl": [
   {"r":"[18]","x":100,"y":351},{"r":"[19]","x":503,"y":260},{"r":"[20]","x":500,"y":185},{"r":"[21]","x":197,"y":134},{"r":"[22]","x":450,"y":148},{"r":"[23]","x":511,"y":129},{"r":"[24]","x":96,"y":107},{"r":"[25]","x":212,"y":70},{"r":"[26]","x":104,"y":38},{"r":"[27]","x":450,"y":51},{"r":"[28]","x":511,"y":14}
  ],
  "e": [
   {"s":"mPR-SPE","b":"c","x":0,"y":3.15},{"s":"mPR-SPE","b":"c","x":300,"y":3.3},{"s":"mPR-SPE","b":"c","x":700,"y":3.5},{"s":"mPR-SPE","b":"c","x":1200,"y":3.7},{"s":"mPR-SPE","b":"c","x":2000,"y":3.88},{"s":"mPR-SPE","b":"c","x":2800,"y":3.95},{"s":"mPR-SPE","b":"c","x":4000,"y":4.0},{"s":"mPR-SPE","b":"c","x":5500,"y":4.06},{"s":"mPR-SPE","b":"c","x":7000,"y":4.15},{"s":"mPR-SPE","b":"c","x":8500,"y":4.24},{"s":"mPR-SPE","b":"c","x":10000,"y":4.32},{"s":"mPR-SPE","b":"c","x":11500,"y":4.4},{"s":"mPR-SPE","b":"c","x":13000,"y":4.45},{"s":"mPR-SPE","b":"c","x":14500,"y":4.5},{"s":"mPR-SPE","b":"c","x":16500,"y":4.56},{"s":"mPR-SPE","b":"c","x":18000,"y":4.56},{"s":"mPR-SPE","b":"c","x":19000,"y":4.55},{"s":"mPR-SPE","b":"c","x":20000,"y":4.55},
   {"s":"mPR-SPE","b":"d","x":0,"y":3.15},{"s":"mPR-SPE","b":"d","x":200,"y":2.98},{"s":"mPR-SPE","b":"d","x":500,"y":2.82},{"s":"mPR-SPE","b":"d","x":900,"y":2.72},{"s":"mPR-SPE","b":"d","x":1500,"y":2.66},{"s":"mPR-SPE","b":"d","x":2200,"y":2.63},{"s":"mPR-SPE","b":"d","x":3000,"y":2.64},{"s":"mPR-SPE","b":"d","x":4000,"y":2.66},{"s":"mPR-SPE","b":"d","x":6000,"y":2.66},{"s":"mPR-SPE","b":"d","x":8000,"y":2.65},{"s":"mPR-SPE","b":"d","x":10000,"y":2.63},{"s":"mPR-SPE","b":"d","x":12000,"y":2.6},{"s":"mPR-SPE","b":"d","x":14000,"y":2.57},{"s":"mPR-SPE","b":"d","x":16000,"y":2.53},{"s":"mPR-SPE","b":"d","x":17000,"y":2.5},{"s":"mPR-SPE","b":"d","x":18000,"y":2.42},{"s":"mPR-SPE","b":"d","x":18800,"y":2.32},{"s":"mPR-SPE","b":"d","x":19400,"y":2.2},{"s":"mPR-SPE","b":"d","x":19800,"y":2.08},{"s":"mPR-SPE","b":"d","x":20000,"y":2.0},
   {"s":"pPR-SPE","b":"c","x":0,"y":3.15},{"s":"pPR-SPE","b":"c","x":100,"y":3.45},{"s":"pPR-SPE","b":"c","x":250,"y":3.7},{"s":"pPR-SPE","b":"c","x":450,"y":3.9},{"s":"pPR-SPE","b":"c","x":700,"y":4.02},{"s":"pPR-SPE","b":"c","x":1000,"y":4.07},{"s":"pPR-SPE","b":"c","x":1300,"y":4.15},{"s":"pPR-SPE","b":"c","x":1700,"y":4.25},{"s":"pPR-SPE","b":"c","x":2200,"y":4.3},{"s":"pPR-SPE","b":"c","x":2800,"y":4.35},{"s":"pPR-SPE","b":"c","x":3500,"y":4.4},{"s":"pPR-SPE","b":"c","x":5000,"y":4.45},{"s":"pPR-SPE","b":"c","x":7000,"y":4.5},{"s":"pPR-SPE","b":"c","x":8500,"y":4.52},{"s":"pPR-SPE","b":"c","x":9500,"y":4.57},{"s":"pPR-SPE","b":"c","x":10500,"y":4.63},{"s":"pPR-SPE","b":"c","x":11300,"y":4.7},{"s":"pPR-SPE","b":"c","x":12200,"y":4.77},{"s":"pPR-SPE","b":"c","x":12800,"y":4.87},
   {"s":"pPR-SPE","b":"d","x":0,"y":3.1},{"s":"pPR-SPE","b":"d","x":150,"y":2.95},{"s":"pPR-SPE","b":"d","x":400,"y":2.82},{"s":"pPR-SPE","b":"d","x":800,"y":2.71},{"s":"pPR-SPE","b":"d","x":1300,"y":2.66},{"s":"pPR-SPE","b":"d","x":1800,"y":2.64},{"s":"pPR-SPE","b":"d","x":2500,"y":2.65},{"s":"pPR-SPE","b":"d","x":3500,"y":2.66},{"s":"pPR-SPE","b":"d","x":5500,"y":2.66},{"s":"pPR-SPE","b":"d","x":6500,"y":2.63},{"s":"pPR-SPE","b":"d","x":7500,"y":2.59},{"s":"pPR-SPE","b":"d","x":8500,"y":2.57},{"s":"pPR-SPE","b":"d","x":10000,"y":2.55},{"s":"pPR-SPE","b":"d","x":11000,"y":2.53},{"s":"pPR-SPE","b":"d","x":11500,"y":2.5},{"s":"pPR-SPE","b":"d","x":11900,"y":2.42},{"s":"pPR-SPE","b":"d","x":12300,"y":2.28},{"s":"pPR-SPE","b":"d","x":12600,"y":2.12},{"s":"pPR-SPE","b":"d","x":12800,"y":2.0}
  ],
  "f": [
   {"s":"500","b":"c","x":0,"y":3.2},{"s":"500","b":"c","x":300,"y":3.35},{"s":"500","b":"c","x":700,"y":3.55},{"s":"500","b":"c","x":1200,"y":3.72},{"s":"500","b":"c","x":2000,"y":3.88},{"s":"500","b":"c","x":2700,"y":3.95},{"s":"500","b":"c","x":4000,"y":4.0},{"s":"500","b":"c","x":6000,"y":4.1},{"s":"500","b":"c","x":8000,"y":4.22},{"s":"500","b":"c","x":10000,"y":4.33},{"s":"500","b":"c","x":12000,"y":4.43},{"s":"500","b":"c","x":14000,"y":4.5},{"s":"500","b":"c","x":16500,"y":4.56},{"s":"500","b":"c","x":18000,"y":4.56},{"s":"500","b":"c","x":20000,"y":4.55},
   {"s":"500","b":"d","x":0,"y":3.2},{"s":"500","b":"d","x":300,"y":2.9},{"s":"500","b":"d","x":700,"y":2.75},{"s":"500","b":"d","x":1500,"y":2.66},{"s":"500","b":"d","x":2500,"y":2.63},{"s":"500","b":"d","x":3500,"y":2.65},{"s":"500","b":"d","x":5000,"y":2.66},{"s":"500","b":"d","x":8000,"y":2.65},{"s":"500","b":"d","x":11000,"y":2.63},{"s":"500","b":"d","x":14000,"y":2.57},{"s":"500","b":"d","x":16500,"y":2.51},{"s":"500","b":"d","x":18000,"y":2.4},{"s":"500","b":"d","x":19000,"y":2.27},{"s":"500","b":"d","x":19600,"y":2.15},{"s":"500","b":"d","x":20000,"y":2.0},
   {"s":"1000","b":"c","x":0,"y":3.1},{"s":"1000","b":"c","x":80,"y":3.6},{"s":"1000","b":"c","x":200,"y":3.76},{"s":"1000","b":"c","x":500,"y":3.83},{"s":"1000","b":"c","x":1000,"y":3.9},{"s":"1000","b":"c","x":1500,"y":3.96},{"s":"1000","b":"c","x":2000,"y":4.04},{"s":"1000","b":"c","x":2500,"y":4.12},{"s":"1000","b":"c","x":3000,"y":4.2},{"s":"1000","b":"c","x":3500,"y":4.3},{"s":"1000","b":"c","x":4000,"y":4.4},{"s":"1000","b":"c","x":4500,"y":4.5},{"s":"1000","b":"c","x":5000,"y":4.6},{"s":"1000","b":"c","x":5500,"y":4.72},{"s":"1000","b":"c","x":6000,"y":4.86},
   {"s":"1000","b":"d","x":0,"y":3.15},{"s":"1000","b":"d","x":80,"y":2.9},{"s":"1000","b":"d","x":200,"y":2.72},{"s":"1000","b":"d","x":400,"y":2.64},{"s":"1000","b":"d","x":800,"y":2.6},{"s":"1000","b":"d","x":1500,"y":2.57},{"s":"1000","b":"d","x":2500,"y":2.55},{"s":"1000","b":"d","x":3500,"y":2.56},{"s":"1000","b":"d","x":4500,"y":2.56},{"s":"1000","b":"d","x":5500,"y":2.56},{"s":"1000","b":"d","x":5900,"y":2.53},{"s":"1000","b":"d","x":6000,"y":2.4},{"s":"1000","b":"d","x":6050,"y":2.2},{"s":"1000","b":"d","x":6100,"y":2.0},
   {"s":"2000","b":"c","x":0,"y":4.02},{"s":"2000","b":"c","x":10,"y":3.6},{"s":"2000","b":"c","x":100,"y":3.5},{"s":"2000","b":"c","x":250,"y":3.66},{"s":"2000","b":"c","x":500,"y":3.76},{"s":"2000","b":"c","x":1000,"y":3.85},{"s":"2000","b":"c","x":1500,"y":3.9},{"s":"2000","b":"c","x":2000,"y":3.95},{"s":"2000","b":"c","x":3000,"y":4.05},{"s":"2000","b":"c","x":4000,"y":4.18},{"s":"2000","b":"c","x":5000,"y":4.32},{"s":"2000","b":"c","x":5800,"y":4.42},{"s":"2000","b":"c","x":6500,"y":4.6},{"s":"2000","b":"c","x":7200,"y":4.75},{"s":"2000","b":"c","x":8000,"y":4.86},{"s":"2000","b":"c","x":8800,"y":4.9},{"s":"2000","b":"c","x":9600,"y":4.9},{"s":"2000","b":"c","x":10000,"y":4.87},
   {"s":"2000","b":"d","x":0,"y":3.2},{"s":"2000","b":"d","x":200,"y":3.05},{"s":"2000","b":"d","x":500,"y":2.9},{"s":"2000","b":"d","x":800,"y":2.78},{"s":"2000","b":"d","x":1200,"y":2.7},{"s":"2000","b":"d","x":2000,"y":2.66},{"s":"2000","b":"d","x":3000,"y":2.65},{"s":"2000","b":"d","x":5000,"y":2.64},{"s":"2000","b":"d","x":7000,"y":2.63},{"s":"2000","b":"d","x":8500,"y":2.62},{"s":"2000","b":"d","x":9300,"y":2.6},{"s":"2000","b":"d","x":9800,"y":2.55},{"s":"2000","b":"d","x":9950,"y":2.4},{"s":"2000","b":"d","x":10000,"y":2.2},{"s":"2000","b":"d","x":10050,"y":2.0}
  ],
  "g": [
   {"s":"t","k":"100","n":1,"v":0.71},{"s":"t","k":"100","n":2,"v":0.73},{"s":"t","k":"100","n":3,"v":0.745},{"s":"t","k":"100","n":4,"v":0.76},{"s":"t","k":"100","n":5,"v":0.775},
   {"s":"t","k":"200","n":6,"v":1.0},{"s":"t","k":"200","n":7,"v":1.02},{"s":"t","k":"200","n":8,"v":1.035},{"s":"t","k":"200","n":9,"v":1.05},{"s":"t","k":"200","n":10,"v":1.065},
   {"s":"t","k":"500","n":11,"v":1.35},{"s":"t","k":"500","n":12,"v":1.355},{"s":"t","k":"500","n":13,"v":1.37},{"s":"t","k":"500","n":14,"v":1.39},{"s":"t","k":"500","n":15,"v":1.395},
   {"s":"t","k":"1000","n":16,"v":1.505},{"s":"t","k":"1000","n":17,"v":1.48},{"s":"t","k":"1000","n":18,"v":1.515},{"s":"t","k":"1000","n":19,"v":1.535},{"s":"t","k":"1000","n":20,"v":1.545},
   {"s":"t","k":"100","n":21,"v":0.85},{"s":"t","k":"100","n":22,"v":0.92},{"s":"t","k":"100","n":23,"v":0.96},{"s":"t","k":"100","n":24,"v":0.99},{"s":"t","k":"100","n":25,"v":1.01},{"s":"t","k":"100","n":26,"v":1.025},{"s":"t","k":"100","n":27,"v":1.035},{"s":"t","k":"100","n":28,"v":1.045},{"s":"t","k":"100","n":29,"v":1.055},{"s":"t","k":"100","n":30,"v":1.06},{"s":"t","k":"100","n":31,"v":1.068},{"s":"t","k":"100","n":32,"v":1.075},{"s":"t","k":"100","n":33,"v":1.08},{"s":"t","k":"100","n":34,"v":1.085},{"s":"t","k":"100","n":35,"v":1.09},{"s":"t","k":"100","n":36,"v":1.095},{"s":"t","k":"100","n":37,"v":1.1},{"s":"t","k":"100","n":38,"v":1.105},{"s":"t","k":"100","n":39,"v":1.11},{"s":"t","k":"100","n":40,"v":1.112},{"s":"t","k":"100","n":41,"v":1.115},{"s":"t","k":"100","n":42,"v":1.118},{"s":"t","k":"100","n":43,"v":1.12},{"s":"t","k":"100","n":44,"v":1.123},{"s":"t","k":"100","n":45,"v":1.125},{"s":"t","k":"100","n":46,"v":1.128},{"s":"t","k":"100","n":47,"v":1.13},{"s":"t","k":"100","n":48,"v":1.132},{"s":"t","k":"100","n":49,"v":1.134},{"s":"t","k":"100","n":50,"v":1.136},{"s":"t","k":"100","n":51,"v":1.138},{"s":"t","k":"100","n":52,"v":1.14},{"s":"t","k":"100","n":53,"v":1.141},{"s":"t","k":"100","n":54,"v":1.142},{"s":"t","k":"100","n":55,"v":1.144},{"s":"t","k":"100","n":56,"v":1.145},{"s":"t","k":"100","n":57,"v":1.146},{"s":"t","k":"100","n":58,"v":1.148},{"s":"t","k":"100","n":59,"v":1.149},{"s":"t","k":"100","n":60,"v":1.15},{"s":"t","k":"100","n":61,"v":1.151},{"s":"t","k":"100","n":62,"v":1.152},{"s":"t","k":"100","n":63,"v":1.152},{"s":"t","k":"100","n":64,"v":1.153},{"s":"t","k":"100","n":65,"v":1.154},{"s":"t","k":"100","n":66,"v":1.155},{"s":"t","k":"100","n":67,"v":1.155},{"s":"t","k":"100","n":68,"v":1.156},{"s":"t","k":"100","n":69,"v":1.157},{"s":"t","k":"100","n":70,"v":1.157},{"s":"t","k":"100","n":71,"v":1.158},{"s":"t","k":"100","n":72,"v":1.158},{"s":"t","k":"100","n":73,"v":1.159},{"s":"t","k":"100","n":74,"v":1.159},{"s":"t","k":"100","n":75,"v":1.16},{"s":"t","k":"100","n":76,"v":1.16},{"s":"t","k":"100","n":77,"v":1.16},{"s":"t","k":"100","n":78,"v":1.161},{"s":"t","k":"100","n":79,"v":1.161},{"s":"t","k":"100","n":80,"v":1.162},{"s":"t","k":"100","n":81,"v":1.162},{"s":"t","k":"100","n":82,"v":1.163},{"s":"t","k":"100","n":83,"v":1.163},{"s":"t","k":"100","n":84,"v":1.164},{"s":"t","k":"100","n":85,"v":1.164},{"s":"t","k":"100","n":86,"v":1.165},{"s":"t","k":"100","n":87,"v":1.165},{"s":"t","k":"100","n":88,"v":1.166},{"s":"t","k":"100","n":89,"v":1.166},{"s":"t","k":"100","n":90,"v":1.167},{"s":"t","k":"100","n":91,"v":1.168},{"s":"t","k":"100","n":92,"v":1.168},{"s":"t","k":"100","n":93,"v":1.169},{"s":"t","k":"100","n":94,"v":1.17},{"s":"t","k":"100","n":95,"v":1.171},{"s":"t","k":"100","n":96,"v":1.172},{"s":"t","k":"100","n":97,"v":1.173},{"s":"t","k":"100","n":98,"v":1.174},{"s":"t","k":"100","n":99,"v":1.175},{"s":"t","k":"100","n":100,"v":1.176},
   {"s":"b","k":"100","n":1,"v":1.085},{"s":"b","k":"100","n":2,"v":1.16},{"s":"b","k":"100","n":3,"v":1.23},{"s":"b","k":"100","n":4,"v":1.24},{"s":"b","k":"100","n":5,"v":1.245},
   {"s":"b","k":"200","n":6,"v":1.475},{"s":"b","k":"200","n":7,"v":1.47},{"s":"b","k":"200","n":8,"v":1.44},{"s":"b","k":"200","n":9,"v":1.415},{"s":"b","k":"200","n":10,"v":1.405},
   {"s":"b","k":"500","n":11,"v":1.655},{"s":"b","k":"500","n":12,"v":1.645},{"s":"b","k":"500","n":13,"v":1.64},{"s":"b","k":"500","n":14,"v":1.635},{"s":"b","k":"500","n":15,"v":1.63},
   {"s":"b","k":"1000","n":16,"v":1.91},{"s":"b","k":"1000","n":17,"v":1.9},{"s":"b","k":"1000","n":18,"v":1.875},{"s":"b","k":"1000","n":19,"v":1.865},{"s":"b","k":"1000","n":20,"v":1.865},
   {"s":"b","k":"100","n":21,"v":1.23},{"s":"b","k":"100","n":22,"v":1.27},{"s":"b","k":"100","n":23,"v":1.29},{"s":"b","k":"100","n":24,"v":1.31},{"s":"b","k":"100","n":25,"v":1.33},{"s":"b","k":"100","n":26,"v":1.35},{"s":"b","k":"100","n":27,"v":1.37},{"s":"b","k":"100","n":28,"v":1.385},{"s":"b","k":"100","n":29,"v":1.39},{"s":"b","k":"100","n":30,"v":1.4},{"s":"b","k":"100","n":31,"v":1.41},{"s":"b","k":"100","n":32,"v":1.43},{"s":"b","k":"100","n":33,"v":1.44},{"s":"b","k":"100","n":34,"v":1.455},{"s":"b","k":"100","n":35,"v":1.465},{"s":"b","k":"100","n":36,"v":1.475},{"s":"b","k":"100","n":37,"v":1.485},{"s":"b","k":"100","n":38,"v":1.495},{"s":"b","k":"100","n":39,"v":1.5},{"s":"b","k":"100","n":40,"v":1.505},{"s":"b","k":"100","n":41,"v":1.51},{"s":"b","k":"100","n":42,"v":1.51},{"s":"b","k":"100","n":43,"v":1.51},{"s":"b","k":"100","n":44,"v":1.515},{"s":"b","k":"100","n":45,"v":1.515},{"s":"b","k":"100","n":46,"v":1.52},{"s":"b","k":"100","n":47,"v":1.52},{"s":"b","k":"100","n":48,"v":1.525},{"s":"b","k":"100","n":49,"v":1.52},{"s":"b","k":"100","n":50,"v":1.525},{"s":"b","k":"100","n":51,"v":1.53},{"s":"b","k":"100","n":52,"v":1.535},{"s":"b","k":"100","n":53,"v":1.54},{"s":"b","k":"100","n":54,"v":1.545},{"s":"b","k":"100","n":55,"v":1.55},{"s":"b","k":"100","n":56,"v":1.555},{"s":"b","k":"100","n":57,"v":1.56},{"s":"b","k":"100","n":58,"v":1.56},{"s":"b","k":"100","n":59,"v":1.565},{"s":"b","k":"100","n":60,"v":1.565},{"s":"b","k":"100","n":61,"v":1.565},{"s":"b","k":"100","n":62,"v":1.57},{"s":"b","k":"100","n":63,"v":1.565},{"s":"b","k":"100","n":64,"v":1.57},{"s":"b","k":"100","n":65,"v":1.575},{"s":"b","k":"100","n":66,"v":1.57},{"s":"b","k":"100","n":67,"v":1.575},{"s":"b","k":"100","n":68,"v":1.58},{"s":"b","k":"100","n":69,"v":1.575},{"s":"b","k":"100","n":70,"v":1.58},{"s":"b","k":"100","n":71,"v":1.585},{"s":"b","k":"100","n":72,"v":1.58},{"s":"b","k":"100","n":73,"v":1.585},{"s":"b","k":"100","n":74,"v":1.59},{"s":"b","k":"100","n":75,"v":1.585},{"s":"b","k":"100","n":76,"v":1.59},{"s":"b","k":"100","n":77,"v":1.585},{"s":"b","k":"100","n":78,"v":1.59},{"s":"b","k":"100","n":79,"v":1.595},{"s":"b","k":"100","n":80,"v":1.59},{"s":"b","k":"100","n":81,"v":1.595},{"s":"b","k":"100","n":82,"v":1.6},{"s":"b","k":"100","n":83,"v":1.595},{"s":"b","k":"100","n":84,"v":1.6},{"s":"b","k":"100","n":85,"v":1.6},{"s":"b","k":"100","n":86,"v":1.6},{"s":"b","k":"100","n":87,"v":1.605},{"s":"b","k":"100","n":88,"v":1.6},{"s":"b","k":"100","n":89,"v":1.6},{"s":"b","k":"100","n":90,"v":1.6},{"s":"b","k":"100","n":91,"v":1.595},{"s":"b","k":"100","n":92,"v":1.6},{"s":"b","k":"100","n":93,"v":1.61},{"s":"b","k":"100","n":94,"v":1.615},{"s":"b","k":"100","n":95,"v":1.62},{"s":"b","k":"100","n":96,"v":1.62},{"s":"b","k":"100","n":97,"v":1.625},{"s":"b","k":"100","n":98,"v":1.625},{"s":"b","k":"100","n":99,"v":1.62},{"s":"b","k":"100","n":100,"v":1.625}
  ]
 },
 "spacing": 247,
 "bounds": "flush",
 "resolve": {"scale": {"color": "independent", "fill": "independent", "stroke": "independent"}, "legend": {"color": "independent", "fill": "independent", "stroke": "independent"}},
 "vconcat": [
  {
   "hconcat": [
    {
     "width": 272, "height": 195,
     "layer": [
      {"data": {"name": "a"}, "mark": {"type": "line", "strokeWidth": 2, "clip": true},
       "encoding": {
        "x": {"field": "x", "type": "quantitative", "scale": {"domain": [0, 500], "nice": false}, "axis": {"values": [0, 100, 200, 300, 400, 500], "tickCount": 40, "labelOverlap": false, "title": "Capacity (mA h g⁻¹)"}},
        "y": {"field": "y", "type": "quantitative", "scale": {"domain": [2, 5], "nice": false, "zero": false}, "axis": {"values": [2, 2.5, 3, 3.5, 4, 4.5, 5], "tickCount": 40, "format": ".1f", "labelOverlap": false, "title": "Voltage (V)"}},
        "color": {"field": "s", "type": "nominal", "scale": {"domain": ["1st", "10th", "50th", "100th", "198th"], "range": ["#ff2bff", "#ff5a1f", "#e5b41e", "#3a9fd6", "#62b046"]},
         "legend": {"orient": "none", "legendX": 197.5, "legendY": 75, "symbolType": "M-2.55,0H2.55", "symbolSize": 121, "symbolStrokeWidth": 2.5, "labelFontSize": 12.5, "labelOffset": 12.5, "rowPadding": 0}},
        "detail": {"field": "b"},
        "order": {"value": null}
       }},
      {"data": {"values": [{"x": 24, "y": 4.63, "t": "a"}]}, "mark": {"type": "text", "fontSize": 27, "fontWeight": "bold", "align": "left", "baseline": "alphabetic", "color": "#000"},
       "encoding": {"x": {"field": "x", "type": "quantitative"}, "y": {"field": "y", "type": "quantitative"}, "text": {"field": "t"}}},
      {"data": {"values": [{"x": 480, "y": 4.74, "t": "mPR-SPE"}]}, "mark": {"type": "text", "fontSize": 12.5, "fontWeight": "bold", "align": "right", "baseline": "alphabetic", "color": "#ff6b6b"},
       "encoding": {"x": {"field": "x", "type": "quantitative"}, "y": {"field": "y", "type": "quantitative"}, "text": {"field": "t"}}}
     ]
    },
    {
     "hconcat": [
      {
       "width": 269, "height": 195,
       "layer": [
        {"data": {"name": "b"}, "mark": {"type": "line", "strokeWidth": 2, "clip": true},
         "encoding": {
          "x": {"field": "x", "type": "quantitative", "scale": {"domain": [0, 500], "nice": false}, "axis": {"values": [0, 100, 200, 300, 400, 500], "tickCount": 40, "labelOverlap": false, "title": "Capacity (mA h g⁻¹)"}},
          "y": {"field": "y", "type": "quantitative", "scale": {"domain": [2, 5], "nice": false, "zero": false}, "axis": {"values": [2, 2.5, 3, 3.5, 4, 4.5, 5], "tickCount": 40, "format": ".1f", "labelOverlap": false, "title": "Voltage (V)"}},
          "color": {"field": "s", "type": "nominal", "scale": {"domain": ["1st", "10th", "50th", "100th", "138th"], "range": ["#ff2bff", "#ff5a1f", "#e5b41e", "#3a9fd6", "#62b046"]},
           "legend": {"orient": "none", "legendX": 213.5, "legendY": 64, "symbolType": "M-2.18,0H2.18", "symbolSize": 121, "symbolStrokeWidth": 2.5, "labelFontSize": 12.5, "labelOffset": 11.5, "rowPadding": 0}},
          "detail": {"field": "b"},
          "order": {"value": null}
         }},
        {"data": {"values": [{"x": 9, "y": 4.63, "t": "b"}]}, "mark": {"type": "text", "fontSize": 27, "fontWeight": "bold", "align": "left", "baseline": "alphabetic", "color": "#000"},
         "encoding": {"x": {"field": "x", "type": "quantitative"}, "y": {"field": "y", "type": "quantitative"}, "text": {"field": "t"}}},
        {"data": {"values": [{"x": 481, "y": 4.74, "t": "pPR-SPE"}]}, "mark": {"type": "text", "fontSize": 12.5, "fontWeight": "bold", "align": "right", "baseline": "alphabetic", "color": "#3a9a3a"},
         "encoding": {"x": {"field": "x", "type": "quantitative"}, "y": {"field": "y", "type": "quantitative"}, "text": {"field": "t"}}}
       ]
      },
      {
       "hconcat": [
        {
         "vconcat": [
          {
           "width": 274, "height": 112,
           "layer": [
            {"data": {"name": "c"}, "transform": [{"filter": "datum.s == 't'"}], "mark": {"type": "point", "filled": true, "size": 32, "strokeWidth": 1, "opacity": 1, "clip": true},
             "encoding": {
              "x": {"field": "n", "type": "quantitative", "scale": {"domain": [0, 300], "nice": false}, "axis": {"values": [0, 50, 100, 150, 200, 250, 300], "tickCount": 40, "labels": false, "title": null}},
              "y": {"field": "v", "type": "quantitative", "scale": {"domain": [-10, 690], "nice": false, "zero": false}, "axis": {"values": [100, 200, 300, 400, 500, 600], "tickCount": 40, "labelOverlap": false, "labelFontSize": 11.5, "title": "Capacity (mA h g⁻¹)", "titleY": 97.5, "titlePadding": 5}},
              "fill": {"field": "k", "type": "nominal", "scale": {"domain": ["m0", "mPR-SPE", "p0", "pPR-SPE"], "range": ["transparent", "#f77070", "transparent", "#1f8c1f"]},
               "legend": {"orient": "none", "legendX": 53, "legendY": 3, "direction": "horizontal", "labelExpr": "length(datum.label) < 3 ? ' ' : datum.label", "labelFontSize": 11, "symbolSize": 40, "symbolStrokeWidth": 1, "labelOffset": 10, "columnPadding": 7, "symbolType": "circle"}},
              "stroke": {"field": "k", "type": "nominal", "scale": {"domain": ["m0", "mPR-SPE", "p0", "pPR-SPE"], "range": ["#f5a07c", "#f77070", "#9fd490", "#1f8c1f"]},
               "legend": {"orient": "none", "legendX": 53, "legendY": 3, "direction": "horizontal", "labelExpr": "length(datum.label) < 3 ? ' ' : datum.label", "labelFontSize": 11, "symbolSize": 40, "symbolStrokeWidth": 1, "labelOffset": 10, "columnPadding": 7, "symbolType": "circle"}}
             }},
            {"data": {"values": [{"x": 9, "y": 558, "t": "c"}]}, "mark": {"type": "text", "fontSize": 27, "fontWeight": "bold", "align": "left", "baseline": "alphabetic", "color": "#000"},
             "encoding": {"x": {"field": "x", "type": "quantitative"}, "y": {"field": "y", "type": "quantitative"}, "text": {"field": "t"}}},
            {"data": {"values": [{"x": 8, "y": 102, "t": "100 mA h g⁻¹"}]}, "mark": {"type": "text", "fontSize": 13, "fontWeight": "bold", "align": "left", "baseline": "middle", "color": "#000"},
             "encoding": {"x": {"field": "x", "type": "quantitative"}, "y": {"field": "y", "type": "quantitative"}, "text": {"field": "t"}}}
           ]
          },
          {
           "width": 274, "height": 83,
           "layer": [
            {"data": {"name": "c"}, "transform": [{"filter": "datum.s == 'b'"}], "mark": {"type": "point", "filled": true, "size": 32, "strokeWidth": 1, "opacity": 1, "clip": true},
             "encoding": {
              "x": {"field": "n", "type": "quantitative", "scale": {"domain": [0, 300], "nice": false}, "axis": {"values": [0, 50, 100, 150, 200, 250, 300], "tickCount": 40, "labelOverlap": false, "title": "Cycle (No.)"}},
              "y": {"field": "v", "type": "quantitative", "scale": {"domain": [0, 1080], "nice": false, "zero": false}, "axis": {"values": [200, 400, 600, 800, 1000], "tickCount": 40, "labelOverlap": false, "labelFontSize": 11.5, "title": null}},
              "fill": {"field": "k", "type": "nominal", "scale": {"domain": ["m0", "mPR-SPE", "p0", "pPR-SPE"], "range": ["transparent", "#f77070", "transparent", "#1f8c1f"]}, "legend": null},
              "stroke": {"field": "k", "type": "nominal", "scale": {"domain": ["m0", "mPR-SPE", "p0", "pPR-SPE"], "range": ["#f5a07c", "#f77070", "#9fd490", "#1f8c1f"]}, "legend": null}
             }},
            {"data": {"values": [{"x": 8, "y": 797, "t": "500 mA h g⁻¹"}]}, "mark": {"type": "text", "fontSize": 13, "fontWeight": "bold", "align": "left", "baseline": "middle", "color": "#000"},
             "encoding": {"x": {"field": "x", "type": "quantitative"}, "y": {"field": "y", "type": "quantitative"}, "text": {"field": "t"}}}
           ]
          }
         ],
         "spacing": 0, "bounds": "flush",
         "resolve": {"scale": {"fill": "independent", "stroke": "independent"}, "legend": {"fill": "independent", "stroke": "independent"}}
        },
        {
         "width": 261, "height": 440,
         "layer": [
          {"data": {"values": [{"x": 115, "y": 301}, {"x": 526, "y": 191}]}, "mark": {"type": "line", "strokeWidth": 50, "strokeCap": "round", "color": "#ff1a1a", "clip": true},
           "encoding": {
            "x": {"field": "x", "type": "quantitative", "scale": {"domain": [50, 530], "nice": false, "zero": false}, "axis": {"values": [100, 200, 300, 400, 500], "tickCount": 40, "labelOverlap": false, "labelFontSize": 16, "title": "Current density (mA g⁻¹)", "titleFontSize": 17, "titlePadding": 6}},
            "y": {"field": "y", "type": "quantitative", "scale": {"domain": [0, 400], "nice": false}, "axis": {"values": [0, 50, 100, 150, 200, 250, 300, 350, 400], "tickCount": 40, "labelOverlap": false, "labelFontSize": 16, "title": "Cycle (No.)", "titleFontSize": 17, "titlePadding": 5}},
            "order": {"value": null}
           }},
          {"data": {"values": [{"x": 115, "y": 301}, {"x": 526, "y": 191}]}, "mark": {"type": "line", "strokeWidth": 46.5, "strokeCap": "round", "color": "#ffffff", "clip": true},
           "encoding": {"x": {"field": "x", "type": "quantitative"}, "y": {"field": "y", "type": "quantitative"}, "order": {"value": null}}},
          {"data": {"name": "d"}, "mark": {"type": "point", "filled": true, "size": 180, "opacity": 1, "clip": true},
           "encoding": {
            "x": {"field": "x", "type": "quantitative"}, "y": {"field": "y", "type": "quantitative"},
            "color": {"field": "r", "type": "nominal", "scale": {"domain": ["[18]", "[19]", "[20]", "[21]", "[22]", "[23]", "[24]", "[25]", "[26]", "[27]", "[28]"], "range": ["#d4aa10", "#5aa02c", "#ff8c1a", "#ff40b0", "#a3a31a", "#e0401a", "#2a8cc0", "#ff40b0", "#ff40b0", "#ff40b0", "#111111"]}, "legend": null}
           }},
          {"data": {"name": "d"}, "mark": {"type": "point", "filled": true, "size": 14, "opacity": 0.75, "color": "#ffffff", "xOffset": -2.5, "yOffset": -2.5, "clip": true},
           "encoding": {"x": {"field": "x", "type": "quantitative"}, "y": {"field": "y", "type": "quantitative"}}},
          {"data": {"values": [{"x": 100, "y": 300}, {"x": 500, "y": 201}]}, "mark": {"type": "point", "filled": true, "size": 440, "opacity": 1, "color": "#ff1010", "shape": "M0,-1L0.2245,-0.309L0.951,-0.309L0.363,0.118L0.588,0.809L0,0.382L-0.588,0.809L-0.363,0.118L-0.951,-0.309L-0.2245,-0.309Z", "clip": true},
           "encoding": {"x": {"field": "x", "type": "quantitative"}, "y": {"field": "y", "type": "quantitative"}}},
          {"data": {"name": "dl"}, "mark": {"type": "text", "fontSize": 14, "fontWeight": "normal", "align": "center", "baseline": "middle", "color": "#222222", "clip": true},
           "encoding": {"x": {"field": "x", "type": "quantitative"}, "y": {"field": "y", "type": "quantitative"}, "text": {"field": "r"}}},
          {"data": {"values": [{"x": 300, "y": 248, "t": "Our work"}]}, "mark": {"type": "text", "fontSize": 18, "fontWeight": "bold", "align": "center", "baseline": "middle", "angle": 28, "color": "#ff1a1a"},
           "encoding": {"x": {"field": "x", "type": "quantitative"}, "y": {"field": "y", "type": "quantitative"}, "text": {"field": "t"}}},
          {"data": {"values": [{"x": 282, "y": 37, "t": "PVDF-HFP\nbased-polymer"}]}, "mark": {"type": "text", "fontSize": 17, "fontWeight": "bold", "align": "center", "baseline": "middle", "lineBreak": "\n", "lineHeight": 21, "color": "#ff3fae"},
           "encoding": {"x": {"field": "x", "type": "quantitative"}, "y": {"field": "y", "type": "quantitative"}, "text": {"field": "t"}}},
          {"data": {"values": [{"x": 52, "y": 378, "t": "d"}]}, "mark": {"type": "text", "fontSize": 27, "fontWeight": "bold", "align": "left", "baseline": "alphabetic", "color": "#000"},
           "encoding": {"x": {"field": "x", "type": "quantitative"}, "y": {"field": "y", "type": "quantitative"}, "text": {"field": "t"}}}
         ]
        }
       ],
       "spacing": 335, "bounds": "flush",
       "resolve": {"scale": {"color": "independent", "fill": "independent", "stroke": "independent"}, "legend": {"color": "independent", "fill": "independent", "stroke": "independent"}}
      }
     ],
     "spacing": 55, "bounds": "flush",
     "resolve": {"scale": {"color": "independent", "fill": "independent", "stroke": "independent"}, "legend": {"color": "independent", "fill": "independent", "stroke": "independent"}}
    }
   ],
   "spacing": 51, "bounds": "flush",
   "resolve": {"scale": {"color": "independent", "fill": "independent", "stroke": "independent"}, "legend": {"color": "independent", "fill": "independent", "stroke": "independent"}}
  },
  {
   "hconcat": [
    {
     "width": 273, "height": 195,
     "layer": [
      {"data": {"name": "e"}, "mark": {"type": "line", "strokeWidth": 2, "clip": true},
       "encoding": {
        "x": {"field": "x", "type": "quantitative", "scale": {"domain": [0, 25000], "nice": false}, "axis": {"values": [0, 10000, 20000], "tickCount": 40, "format": "d", "labelOverlap": false, "title": "Capacity (mA h g⁻¹)", "titlePadding": 10}},
        "y": {"field": "y", "type": "quantitative", "scale": {"domain": [2, 5], "nice": false, "zero": false}, "axis": {"values": [2, 2.5, 3, 3.5, 4, 4.5, 5], "tickCount": 40, "format": ".1f", "labelOverlap": false, "labelFontSize": 12, "title": "Voltage (V)"}},
        "color": {"field": "s", "type": "nominal", "scale": {"domain": ["mPR-SPE", "pPR-SPE"], "range": ["#ff7070", "#1a8a1a"]},
         "legend": {"orient": "none", "legendX": 191, "legendY": 31, "symbolType": "M-2,0H2", "symbolSize": 169, "symbolStrokeWidth": 2.5, "labelFontSize": 12.5, "labelOffset": 10, "rowPadding": 2,
          "encode": {"labels": {"update": {"fill": {"signal": "datum.value === 'mPR-SPE' ? '#ff7070' : '#1a8a1a'"}}}}}},
        "detail": {"field": "b"},
        "order": {"value": null}
       }},
      {"data": {"values": [{"x": 1010, "y": 4.63, "t": "e"}]}, "mark": {"type": "text", "fontSize": 27, "fontWeight": "bold", "align": "left", "baseline": "alphabetic", "color": "#000"},
       "encoding": {"x": {"field": "x", "type": "quantitative"}, "y": {"field": "y", "type": "quantitative"}, "text": {"field": "t"}}},
      {"data": {"values": [{"x": 183, "y": 2.14, "t": "(mA h g⁻¹)"}]}, "mark": {"type": "text", "fontSize": 12, "fontWeight": "bold", "align": "left", "baseline": "middle", "color": "#000"},
       "encoding": {"x": {"field": "x", "type": "quantitative"}, "y": {"field": "y", "type": "quantitative"}, "text": {"field": "t"}}}
     ]
    },
    {
     "hconcat": [
      {
       "width": 271, "height": 195,
       "layer": [
        {"data": {"name": "f"}, "mark": {"type": "line", "strokeWidth": 2, "clip": true},
         "encoding": {
          "x": {"field": "x", "type": "quantitative", "scale": {"domain": [0, 25000], "nice": false}, "axis": {"values": [0, 10000, 20000], "tickCount": 40, "format": "d", "labelOverlap": false, "title": "Capacity (mA h g⁻¹)", "titlePadding": 9}},
          "y": {"field": "y", "type": "quantitative", "scale": {"domain": [2, 5], "nice": false, "zero": false}, "axis": {"values": [2, 2.5, 3, 3.5, 4, 4.5, 5], "tickCount": 40, "format": ".1f", "labelOverlap": false, "labelFontSize": 12, "title": "Voltage (V)"}},
          "color": {"field": "s", "type": "nominal", "scale": {"domain": ["500", "1000", "2000"], "range": ["#ff5a1f", "#3a9fd6", "#e5b41e"]},
           "legend": {"orient": "none", "legendX": 221.5, "legendY": 32, "symbolType": "M-2.36,0H2.36", "symbolSize": 121, "symbolStrokeWidth": 2.5, "labelFontSize": 12, "labelOffset": 10.5, "rowPadding": 0}},
          "detail": {"field": "b"},
          "order": {"value": null}
         }},
        {"data": {"values": [{"x": 280, "y": 4.63, "t": "f"}]}, "mark": {"type": "text", "fontSize": 27, "fontWeight": "bold", "align": "left", "baseline": "alphabetic", "color": "#000"},
         "encoding": {"x": {"field": "x", "type": "quantitative"}, "y": {"field": "y", "type": "quantitative"}, "text": {"field": "t"}}},
        {"data": {"values": [{"x": 24815, "y": 4.85, "t": "(mA h g⁻¹)"}]}, "mark": {"type": "text", "fontSize": 12.5, "fontWeight": "bold", "align": "right", "baseline": "middle", "color": "#000"},
         "encoding": {"x": {"field": "x", "type": "quantitative"}, "y": {"field": "y", "type": "quantitative"}, "text": {"field": "t"}}}
       ]
      },
      {
       "vconcat": [
        {
         "width": 271, "height": 104,
         "layer": [
          {"data": {"name": "g"}, "transform": [{"filter": "datum.s == 't'"}], "mark": {"type": "point", "filled": true, "size": 40, "opacity": 1, "clip": true},
           "encoding": {
            "x": {"field": "n", "type": "quantitative", "scale": {"domain": [0, 100], "nice": false}, "axis": {"values": [0, 20, 40, 60, 80, 100], "tickCount": 40, "labels": false, "title": null}},
            "y": {"field": "v", "type": "quantitative", "scale": {"domain": [0.63, 1.6], "nice": false, "zero": false}, "axis": {"values": [0.8, 1.0, 1.2, 1.4, 1.6], "tickCount": 40, "format": ".1f", "labelOverlap": false, "labelFontSize": 11, "title": "Voltage (V)", "titleFontSize": 17, "titleY": 97.5, "titlePadding": 8}},
            "color": {"field": "k", "type": "nominal", "scale": {"domain": ["100", "500", "200", "1000"], "range": ["#ff2bff", "#e5b41e", "#ff5a1f", "#3a9fd6"]},
             "legend": {"orient": "none", "legendX": 191, "legendY": 4, "columns": 2, "symbolType": "circle", "symbolSize": 30, "labelFontSize": 10, "labelOffset": 10, "columnPadding": 2, "rowPadding": 0}}
           }},
          {"data": {"values": [{"x": 1.5, "y": 1.404, "t": "g"}]}, "mark": {"type": "text", "fontSize": 27, "fontWeight": "bold", "align": "left", "baseline": "alphabetic", "color": "#000"},
           "encoding": {"x": {"field": "x", "type": "quantitative"}, "y": {"field": "y", "type": "quantitative"}, "text": {"field": "t"}}},
          {"data": {"values": [{"x": 97.4, "y": 0.705, "t": "(mA h g⁻¹)"}]}, "mark": {"type": "text", "fontSize": 12, "fontWeight": "bold", "align": "right", "baseline": "middle", "color": "#000"},
           "encoding": {"x": {"field": "x", "type": "quantitative"}, "y": {"field": "y", "type": "quantitative"}, "text": {"field": "t"}}}
         ]
        },
        {
         "width": 271, "height": 91,
         "layer": [
          {"data": {"name": "g"}, "transform": [{"filter": "datum.s == 'b'"}], "mark": {"type": "point", "filled": true, "size": 40, "opacity": 1, "clip": true},
           "encoding": {
            "x": {"field": "n", "type": "quantitative", "scale": {"domain": [0, 100], "nice": false}, "axis": {"values": [0, 20, 40, 60, 80, 100], "tickCount": 40, "labelOverlap": false, "title": "Cycle (No.)", "titlePadding": 9}},
            "y": {"field": "v", "type": "quantitative", "scale": {"domain": [1, 2], "nice": false, "zero": false}, "axis": {"values": [1.0, 1.2, 1.4, 1.6, 1.8, 2.0], "tickCount": 40, "format": ".1f", "labelOverlap": false, "labelFontSize": 11, "title": null}},
            "color": {"field": "k", "type": "nominal", "scale": {"domain": ["100", "500", "200", "1000"], "range": ["#ff2bff", "#e5b41e", "#ff5a1f", "#3a9fd6"]},
             "legend": {"orient": "none", "legendX": 191, "legendY": 4, "columns": 2, "symbolType": "circle", "symbolSize": 30, "labelFontSize": 10, "labelOffset": 10, "columnPadding": 2, "rowPadding": 0}}
           }},
          {"data": {"values": [{"x": 97.4, "y": 1.11, "t": "(mA g⁻¹)"}]}, "mark": {"type": "text", "fontSize": 12, "fontWeight": "bold", "align": "right", "baseline": "middle", "color": "#000"},
           "encoding": {"x": {"field": "x", "type": "quantitative"}, "y": {"field": "y", "type": "quantitative"}, "text": {"field": "t"}}}
         ]
        }
       ],
       "spacing": 0, "bounds": "flush",
       "resolve": {"scale": {"color": "independent"}, "legend": {"color": "independent"}}
      }
     ],
     "spacing": 55, "bounds": "flush",
     "resolve": {"scale": {"color": "independent"}, "legend": {"color": "independent"}}
    }
   ],
   "spacing": 51, "bounds": "flush",
   "resolve": {"scale": {"color": "independent"}, "legend": {"color": "independent"}}
  }
 ]
}
